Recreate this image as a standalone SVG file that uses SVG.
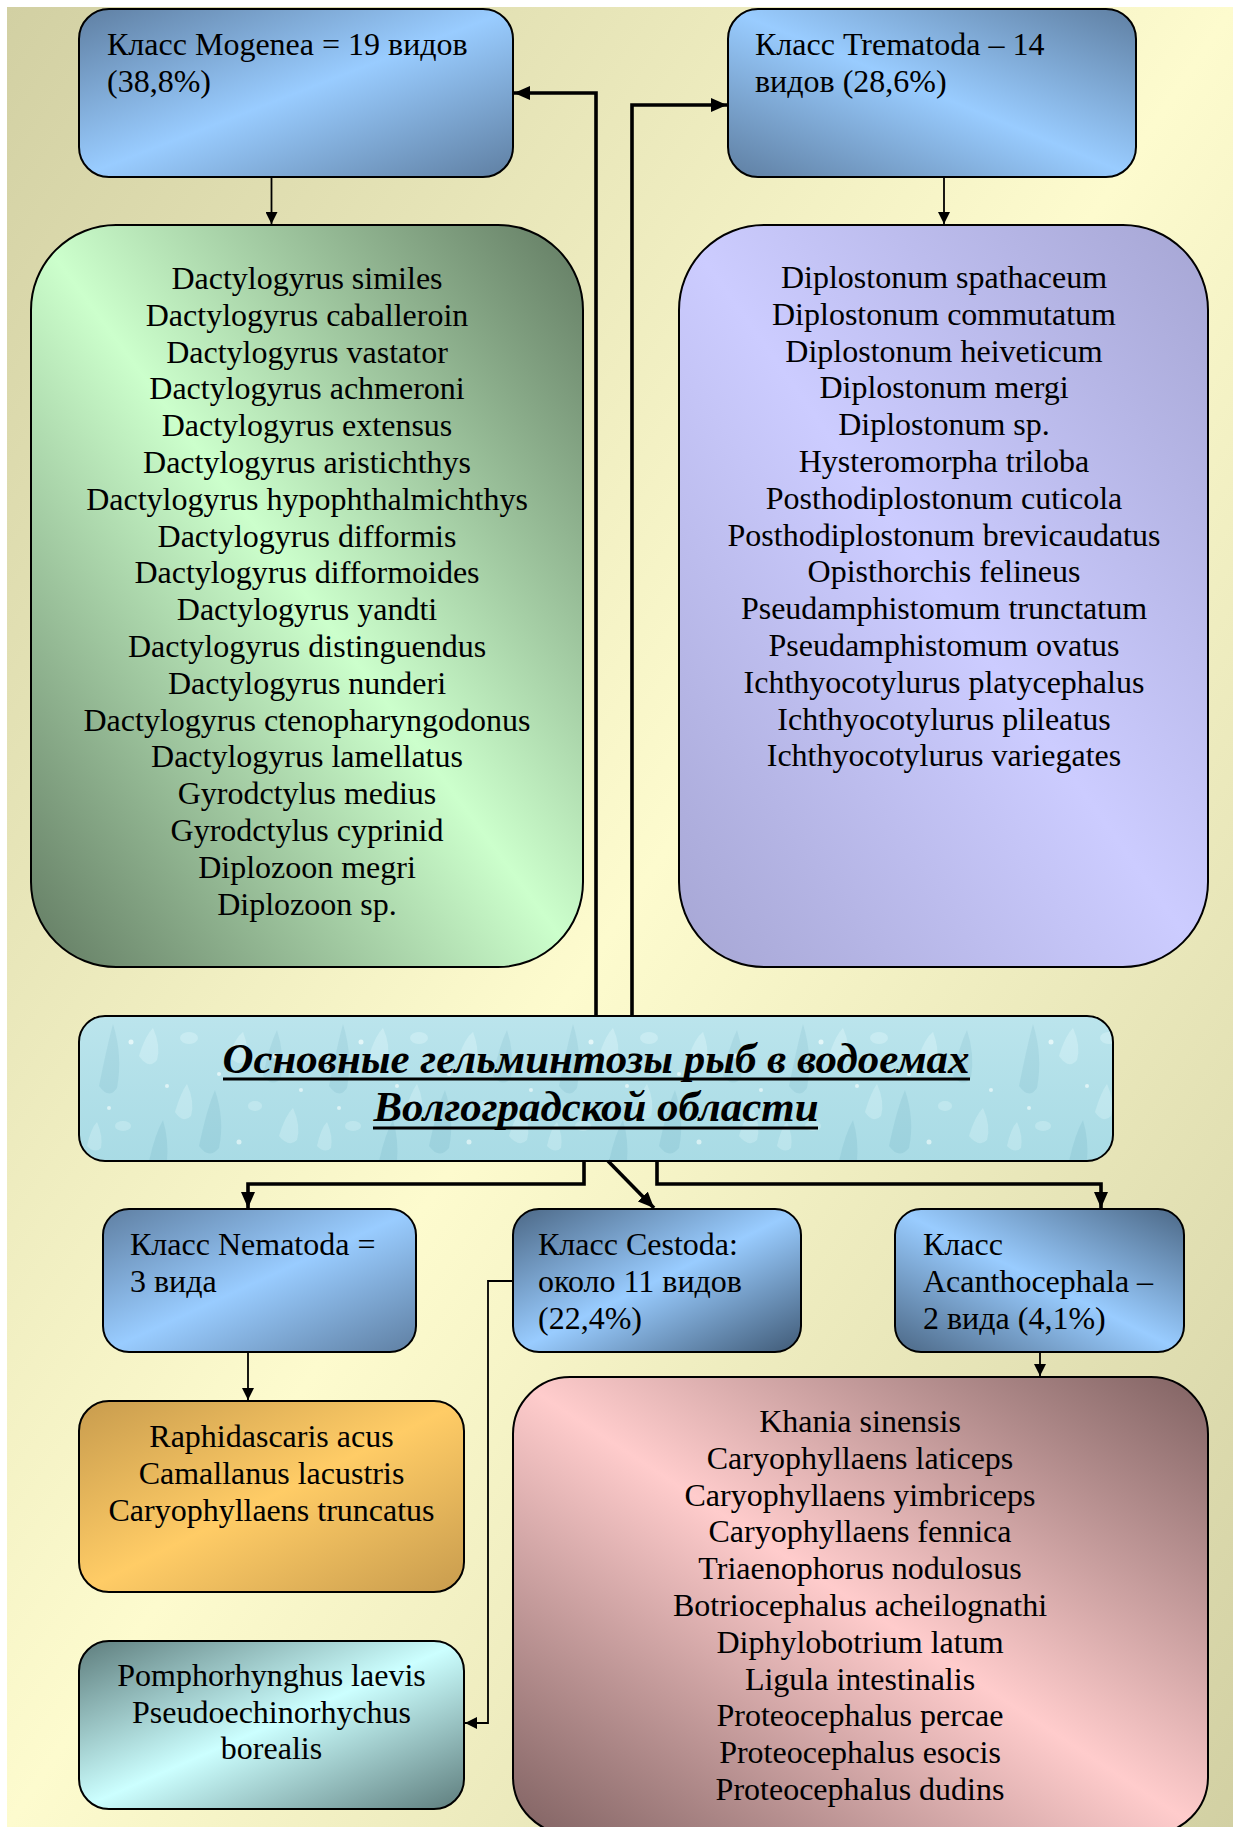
<svg xmlns="http://www.w3.org/2000/svg" width="1233" height="1827" viewBox="0 0 1233 1827">
  <defs>
    <style>
      .box { stroke: #000; stroke-width: 2; }
      .lbl { font-family: "Liberation Serif", "Times New Roman", serif; font-size: 32px; fill: #000; }
      .list { font-family: "Liberation Serif", "Times New Roman", serif; font-size: 32px; fill: #000; text-anchor: middle; }
      .title { font-family: "Liberation Serif", "Times New Roman", serif; font-size: 42px; font-weight: bold; font-style: italic; fill: #000; text-anchor: middle; }
      .thin { fill: none; stroke: #000; stroke-width: 1.8; }
      .thick { fill: none; stroke: #000; stroke-width: 3.6; }
      .drop { fill: #d3f1f6; opacity: 0.55; }
      .dropDark { fill: #86c2d0; opacity: 0.35; }
      .speck { fill: #effcfd; opacity: 0.8; }
    </style>

    <!-- page background: darker top-left and bottom-right, light diagonal band -->
    <linearGradient id="bg" x1="0" y1="0" x2="1" y2="1">
      <stop offset="0" stop-color="#d2d0a3"/>
      <stop offset="0.5" stop-color="#fdfbce"/>
      <stop offset="1" stop-color="#d2d0a3"/>
    </linearGradient>

    <!-- blue class boxes -->
    <linearGradient id="blueDown" x1="0" y1="0" x2="1" y2="1">
      <stop offset="0" stop-color="#5f7fa2"/>
      <stop offset="0.5" stop-color="#99ccff"/>
      <stop offset="1" stop-color="#5f7fa2"/>
    </linearGradient>
    <linearGradient id="blueUp" x1="1" y1="0" x2="0" y2="1">
      <stop offset="0" stop-color="#5f7fa2"/>
      <stop offset="0.5" stop-color="#99ccff"/>
      <stop offset="1" stop-color="#5f7fa2"/>
    </linearGradient>
    <linearGradient id="blueDeep" x1="0" y1="0" x2="1" y2="1">
      <stop offset="0" stop-color="#4c6886"/>
      <stop offset="0.5" stop-color="#99ccff"/>
      <stop offset="1" stop-color="#405a76"/>
    </linearGradient>
    <linearGradient id="blueDeepUp" x1="1" y1="0" x2="0" y2="1">
      <stop offset="0" stop-color="#4c6886"/>
      <stop offset="0.5" stop-color="#99ccff"/>
      <stop offset="1" stop-color="#4c6886"/>
    </linearGradient>

    <!-- species list boxes -->
    <linearGradient id="green" x1="1" y1="0" x2="0" y2="1">
      <stop offset="0" stop-color="#627a62"/>
      <stop offset="0.5" stop-color="#ccffcc"/>
      <stop offset="1" stop-color="#627a62"/>
    </linearGradient>
    <linearGradient id="violet" x1="1" y1="0" x2="0" y2="1">
      <stop offset="0" stop-color="#a6a6d4"/>
      <stop offset="0.5" stop-color="#ccccff"/>
      <stop offset="1" stop-color="#a6a6d4"/>
    </linearGradient>
    <linearGradient id="orange" x1="0" y1="0" x2="1" y2="1">
      <stop offset="0" stop-color="#c89c4e"/>
      <stop offset="0.5" stop-color="#ffcc66"/>
      <stop offset="1" stop-color="#c89c4e"/>
    </linearGradient>
    <linearGradient id="teal" x1="0" y1="0" x2="1" y2="1">
      <stop offset="0" stop-color="#5e7d7d"/>
      <stop offset="0.5" stop-color="#ccffff"/>
      <stop offset="1" stop-color="#5e7d7d"/>
    </linearGradient>
    <linearGradient id="pink" x1="1" y1="0" x2="0" y2="1">
      <stop offset="0" stop-color="#806262"/>
      <stop offset="0.5" stop-color="#ffcccc"/>
      <stop offset="1" stop-color="#806262"/>
    </linearGradient>

    <!-- water-drop texture for the title plate -->
    <pattern id="water" x="79" y="1016" width="230" height="145" patternUnits="userSpaceOnUse">
      <rect width="230" height="145" fill="#b2e1ea"/>
      <path class="dropDark" d="M20 70 Q28 30 34 8 Q44 40 38 72 Q30 84 20 70 Z"/>
      <path class="dropDark" d="M120 130 Q128 92 136 74 Q146 104 140 132 Q130 144 120 130 Z"/>
      <path class="dropDark" d="M184 60 Q190 30 198 14 Q206 38 202 62 Q194 72 184 60 Z"/>
      <path class="dropDark" d="M70 145 Q76 118 84 104 Q90 124 88 145 Z"/>
      <path class="drop" d="M60 40 Q66 20 74 12 Q82 30 78 44 Q70 54 60 40 Z"/>
      <path class="drop" d="M150 40 Q156 22 164 16 Q170 32 168 44 Q160 52 150 40 Z"/>
      <path class="drop" d="M96 96 Q102 76 108 68 Q116 86 112 100 Q104 108 96 96 Z"/>
      <path class="drop" d="M200 120 Q206 100 214 92 Q222 110 218 124 Q210 132 200 120 Z"/>
      <path class="drop" d="M8 130 Q12 112 18 106 Q24 120 22 132 Q16 138 8 130 Z"/>
      <ellipse class="drop" cx="110" cy="22" rx="9" ry="6"/>
      <ellipse class="drop" cx="44" cy="110" rx="8" ry="5"/>
      <ellipse class="drop" cx="176" cy="90" rx="7" ry="5"/>
      <circle class="speck" cx="52" cy="26" r="2.5"/>
      <circle class="speck" cx="140" cy="58" r="2"/>
      <circle class="speck" cx="88" cy="70" r="2"/>
      <circle class="speck" cx="196" cy="40" r="2.5"/>
      <circle class="speck" cx="30" cy="92" r="2"/>
      <circle class="speck" cx="160" cy="126" r="2.5"/>
      <circle class="speck" cx="222" cy="74" r="2"/>
    </pattern>
    <linearGradient id="waterShade" x1="0" y1="0" x2="0" y2="1">
      <stop offset="0" stop-color="#ffffff" stop-opacity="0.12"/>
      <stop offset="1" stop-color="#5aa8b8" stop-opacity="0.10"/>
    </linearGradient>

    <marker id="arrSmall" markerUnits="userSpaceOnUse" markerWidth="12" markerHeight="12" refX="12" refY="6" orient="auto">
      <path d="M0,0 L12,6 L0,12 z" fill="#000"/>
    </marker>
    <marker id="arrBig" markerUnits="userSpaceOnUse" markerWidth="16" markerHeight="14" refX="16" refY="7" orient="auto">
      <path d="M0,0 L16,7 L0,14 z" fill="#000"/>
    </marker>
  </defs>

  <rect width="1233" height="1827" fill="#ffffff"/>
  <rect x="7" y="7" width="1226" height="1820" fill="url(#bg)"/>

  <g id="mogenea">
    <rect class="box" x="79" y="9" width="434" height="168" rx="30" fill="url(#blueDown)"/>
    <text class="lbl" x="107" y="55">Класс Mogenea = 19 видов<tspan x="107" dy="37">(38,8%)</tspan></text>
  </g>

  <g id="trematoda">
    <rect class="box" x="728" y="9" width="408" height="168" rx="30" fill="url(#blueUp)"/>
    <text class="lbl" x="755" y="55">Класс Trematoda – 14<tspan x="755" dy="37">видов (28,6%)</tspan></text>
  </g>

  <g id="mogenea-species">
    <rect class="box" x="31" y="225" width="552" height="742" rx="85" fill="url(#green)"/>
    <text class="list" x="307" y="289"><tspan x="307">Dactylogyrus similes</tspan><tspan x="307" dy="36.8">Dactylogyrus caballeroin</tspan><tspan x="307" dy="36.8">Dactylogyrus vastator</tspan><tspan x="307" dy="36.8">Dactylogyrus achmeroni</tspan><tspan x="307" dy="36.8">Dactylogyrus extensus</tspan><tspan x="307" dy="36.8">Dactylogyrus aristichthys</tspan><tspan x="307" dy="36.8">Dactylogyrus hypophthalmichthys</tspan><tspan x="307" dy="36.8">Dactylogyrus difformis</tspan><tspan x="307" dy="36.8">Dactylogyrus difformoides</tspan><tspan x="307" dy="36.8">Dactylogyrus yandti</tspan><tspan x="307" dy="36.8">Dactylogyrus distinguendus</tspan><tspan x="307" dy="36.8">Dactylogyrus nunderi</tspan><tspan x="307" dy="36.8">Dactylogyrus ctenopharyngodonus</tspan><tspan x="307" dy="36.8">Dactylogyrus lamellatus</tspan><tspan x="307" dy="36.8">Gyrodctylus medius</tspan><tspan x="307" dy="36.8">Gyrodctylus cyprinid</tspan><tspan x="307" dy="36.8">Diplozoon megri</tspan><tspan x="307" dy="36.8">Diplozoon sp.</tspan></text>
  </g>

  <g id="trematoda-species">
    <rect class="box" x="679" y="225" width="529" height="742" rx="85" fill="url(#violet)"/>
    <text class="list" x="944" y="288"><tspan x="944">Diplostonum spathaceum</tspan><tspan x="944" dy="36.8">Diplostonum commutatum</tspan><tspan x="944" dy="36.8">Diplostonum heiveticum</tspan><tspan x="944" dy="36.8">Diplostonum mergi</tspan><tspan x="944" dy="36.8">Diplostonum sp.</tspan><tspan x="944" dy="36.8">Hysteromorpha triloba</tspan><tspan x="944" dy="36.8">Posthodiplostonum cuticola</tspan><tspan x="944" dy="36.8">Posthodiplostonum brevicaudatus</tspan><tspan x="944" dy="36.8">Opisthorchis felineus</tspan><tspan x="944" dy="36.8">Pseudamphistomum trunctatum</tspan><tspan x="944" dy="36.8">Pseudamphistomum ovatus</tspan><tspan x="944" dy="36.8">Ichthyocotylurus platycephalus</tspan><tspan x="944" dy="36.8">Ichthyocotylurus plileatus</tspan><tspan x="944" dy="36.8">Ichthyocotylurus variegates</tspan></text>
  </g>

  <g id="title">
    <rect class="box" x="79" y="1016" width="1034" height="145" rx="26" fill="url(#water)"/>
    <rect x="80" y="1017" width="1032" height="143" rx="25" fill="url(#waterShade)"/>
    <text class="title" x="596" y="1073" textLength="747" lengthAdjust="spacingAndGlyphs">Основные гельминтозы рыб в водоемах</text>
    <text class="title" x="596" y="1121" textLength="445" lengthAdjust="spacingAndGlyphs">Волгоградской области</text>
    <path d="M223,1079 H970 M373,1128 H818" stroke="#000" stroke-width="3"/>
  </g>

  <g id="nematoda">
    <rect class="box" x="103" y="1209" width="313" height="143" rx="26" fill="url(#blueDown)"/>
    <text class="lbl" x="130" y="1255">Класс Nematoda =<tspan x="130" dy="37">3 вида</tspan></text>
  </g>

  <g id="cestoda">
    <rect class="box" x="513" y="1209" width="288" height="143" rx="26" fill="url(#blueDeep)"/>
    <text class="lbl" x="538" y="1255">Класс Cestoda:<tspan x="538" dy="37">около 11 видов</tspan><tspan x="538" dy="37">(22,4%)</tspan></text>
  </g>

  <g id="acanthocephala">
    <rect class="box" x="895" y="1209" width="289" height="143" rx="26" fill="url(#blueDeepUp)"/>
    <text class="lbl" x="923" y="1255">Класс<tspan x="923" dy="37">Acanthocephala –</tspan><tspan x="923" dy="37">2 вида (4,1%)</tspan></text>
  </g>

  <g id="nematoda-species">
    <rect class="box" x="79" y="1401" width="385" height="191" rx="30" fill="url(#orange)"/>
    <text class="list" x="271.5" y="1447"><tspan x="271.5">Raphidascaris acus</tspan><tspan x="271.5" dy="37">Camallanus lacustris</tspan><tspan x="271.5" dy="37">Caryophyllaens truncatus</tspan></text>
  </g>

  <g id="acanthocephala-species">
    <rect class="box" x="79" y="1641" width="385" height="168" rx="30" fill="url(#teal)"/>
    <text class="list" x="271.5" y="1686"><tspan x="271.5">Pomphorhynghus laevis</tspan><tspan x="271.5" dy="36.6">Pseudoechinorhychus</tspan><tspan x="271.5" dy="36.6">borealis</tspan></text>
  </g>

  <g id="cestoda-species">
    <rect class="box" x="513" y="1377" width="695" height="457" rx="57" fill="url(#pink)"/>
    <text class="list" x="860" y="1432"><tspan x="860">Khania sinensis</tspan><tspan x="860" dy="36.8">Caryophyllaens laticeps</tspan><tspan x="860" dy="36.8">Caryophyllaens yimbriceps</tspan><tspan x="860" dy="36.8">Caryophyllaens fennica</tspan><tspan x="860" dy="36.8">Triaenophorus nodulosus</tspan><tspan x="860" dy="36.8">Botriocephalus acheilognathi</tspan><tspan x="860" dy="36.8">Diphylobotrium latum</tspan><tspan x="860" dy="36.8">Ligula intestinalis</tspan><tspan x="860" dy="36.8">Proteocephalus percae</tspan><tspan x="860" dy="36.8">Proteocephalus esocis</tspan><tspan x="860" dy="36.8">Proteocephalus dudins</tspan></text>
  </g>

  <g id="connectors">
    <!-- from the title plate to the five classes -->
    <path class="thick" d="M596,1016 V93 H514" marker-end="url(#arrBig)"/>
    <path class="thick" d="M632,1016 V105 H727" marker-end="url(#arrBig)"/>
    <path class="thick" d="M584,1161 V1184 H248 V1208" marker-end="url(#arrBig)"/>
    <path class="thick" d="M608,1161 L654,1208" marker-end="url(#arrBig)"/>
    <path class="thick" d="M657,1161 V1184 H1101 V1208" marker-end="url(#arrBig)"/>
    <!-- from each class to its species list -->
    <path class="thin" d="M271.5,177 V224" marker-end="url(#arrSmall)"/>
    <path class="thin" d="M944,177 V224" marker-end="url(#arrSmall)"/>
    <path class="thin" d="M248,1352 V1400" marker-end="url(#arrSmall)"/>
    <path class="thin" d="M1040,1352 V1376" marker-end="url(#arrSmall)"/>
    <path class="thin" d="M513,1281 H488 V1723 H465" marker-end="url(#arrSmall)"/>
  </g>
</svg>
